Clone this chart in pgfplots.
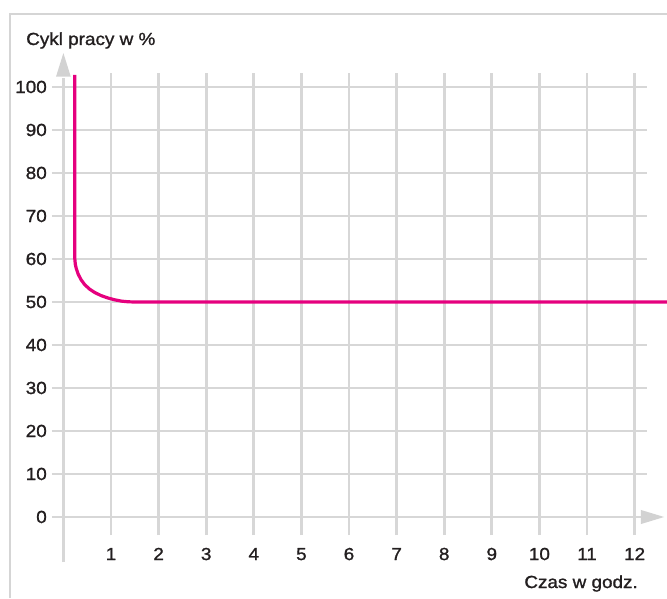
\documentclass[border=0pt]{standalone}
\usepackage{fontspec}
\setmainfont{Liberation Sans}[FakeStretch=1.08, FakeBold=1.2]
\usepackage{pgfplots}
\pgfplotsset{compat=1.18}
\usetikzlibrary{arrows.meta}
\definecolor{gridgray}{HTML}{D7D7D7}
\definecolor{arrowgray}{HTML}{D2D2D2}
\definecolor{framegray}{HTML}{D5D5D5}
\definecolor{curve}{HTML}{E5007E}
\definecolor{txt}{HTML}{231F20}
\begin{document}
\begin{tikzpicture}[x=1pt,y=1pt]
\path[use as bounding box] (0,0) rectangle (667,598);
\clip (0,0) rectangle (667,598);
% outer frame
\draw[framegray, line width=2.8pt] (10,0) -- (10,584) -- (680,584);
\begin{axis}[
  at={(63.4pt,81pt)}, anchor=origin,
  x=47.6pt, y=4.3pt,
  xmin=-0.24, xmax=12.26, ymin=-4.2, ymax=103.3,
  axis line style={draw=none},
  clip=false,
  xtick={1,...,12}, ytick={0,10,...,100},
  major tick length=0pt,
  grid=major,
  major grid style={gridgray, line width=2.8pt},
  /pgf/number format/assume math mode=true,
  font=\fontsize{17.5}{20}\selectfont\color{txt},
  tick label style={font=\fontsize{17.5}{20}\selectfont\color{txt}},
  xticklabel style={anchor=base, inner sep=0pt, yshift=-25pt},
  yticklabel style={anchor=east, inner sep=0pt, xshift=-5pt},
]
% y axis line with arrow
\draw[gridgray, line width=2.8pt] (axis cs:0,-10.5) -- (axis cs:0,102);
\fill[arrowgray] (axis cs:-0.155,102.4) -- (axis cs:0.155,102.4) -- (axis cs:0,107.9) -- cycle;
% x axis line with arrow
\draw[gridgray, line width=2.8pt] (axis cs:-0.24,0) -- (axis cs:12.2,0);
\fill[arrowgray] (axis cs:12.13,1.65) -- (axis cs:12.13,-1.65) -- (axis cs:12.62,0) -- cycle;
\addplot[curve, line width=3.2pt, line join=round, mark=none] coordinates {
 (0.24,102.8) (0.24,60) (0.25,58.8) (0.27,57.8) (0.31,56.5) (0.37,55.2)
 (0.45,54.0) (0.55,53.0) (0.66,52.2) (0.79,51.5) (0.93,50.95) (1.08,50.5)
 (1.22,50.2) (1.36,50.05) (1.5,50) (12.8,50)
};
\end{axis}
\node[anchor=base west, inner sep=0pt, font=\fontsize{17.5}{20}\selectfont, text=txt] at (26,553) {Cykl pracy w \%};
\node[anchor=base east, inner sep=0pt, font=\fontsize{17.5}{20}\selectfont, text=txt] at (638,10) {Czas w godz.};
\end{tikzpicture}
\end{document}
